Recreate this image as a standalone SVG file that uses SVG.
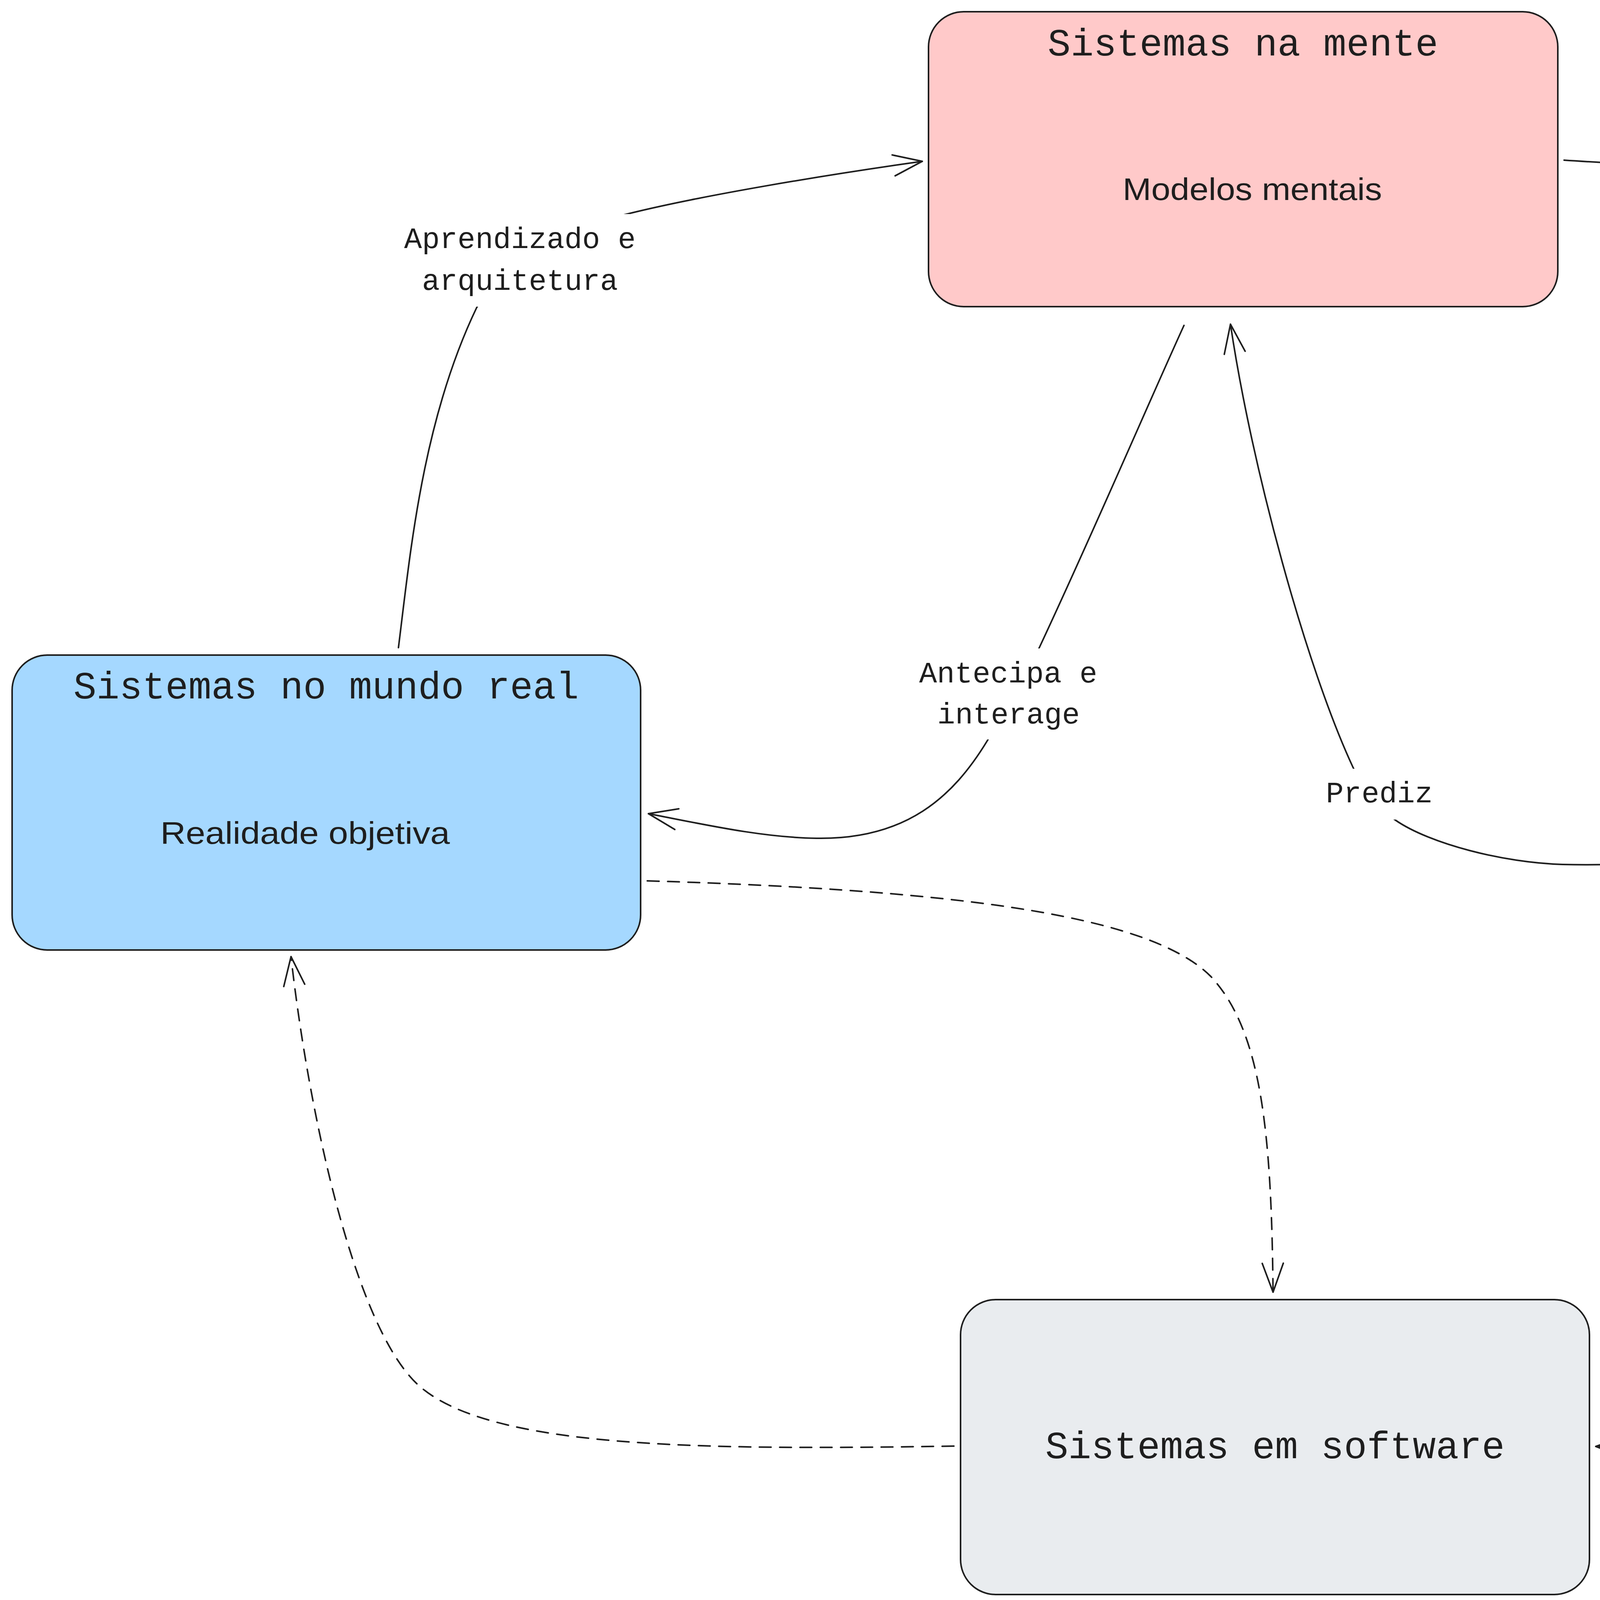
<svg xmlns="http://www.w3.org/2000/svg" width="6448" height="4113" viewBox="0 0 6448 4113">
<defs>
<marker id="ah" markerUnits="userSpaceOnUse" markerWidth="200" markerHeight="200" viewBox="-100 -100 200 200" refX="0" refY="0" orient="auto" overflow="visible">
<path d="M -74 -27 L 0 0 L -74 27" fill="none" stroke="#1e1e1e" stroke-width="4" stroke-linecap="round" stroke-linejoin="round"/>
</marker>
</defs>
<style>
.box{stroke:#1e1e1e;stroke-width:4}
.title{font-family:"Liberation Mono",monospace;font-size:98px;fill:#1e1e1e;text-anchor:middle}
.sub{font-family:"Liberation Sans",sans-serif;font-size:80px;fill:#1e1e1e;text-anchor:middle}
.lbl{font-family:"Liberation Mono",monospace;font-size:76px;fill:#1e1e1e;text-anchor:middle}
.edge{fill:none;stroke:#1e1e1e;stroke-width:4;stroke-linecap:round;marker-end:url(#ah)}
.dash{stroke-dasharray:30 22}
.lblbg{fill:#ffffff}
</style>
<rect x="0" y="0" width="6448" height="4113" fill="#ffffff"/>

<g id="node-mente">
<rect class="box" x="2377" y="30" width="1611" height="755" rx="90" ry="90" fill="#ffc9c9"/>
<text class="title" x="3182" y="142">Sistemas na mente</text>
<text class="sub" x="3206" y="512" textLength="664" lengthAdjust="spacingAndGlyphs">Modelos mentais</text>
</g>

<g id="node-mundo">
<rect class="box" x="31" y="1677" width="1609" height="755" rx="90" ry="90" fill="#a5d8ff"/>
<text class="title" x="835" y="1788">Sistemas no mundo real</text>
<text class="sub" x="781" y="2160" textLength="741" lengthAdjust="spacingAndGlyphs">Realidade objetiva</text>
</g>

<g id="node-abstrato">
<rect class="box" x="4808" y="1756" width="1609" height="755" rx="90" ry="90" fill="#eebefa"/>
<text class="title" x="5613" y="1868">Sistemas em abstrato</text>
<text class="sub" x="5597" y="2205" textLength="491" lengthAdjust="spacingAndGlyphs">Mapeamento</text>
<text class="sub" x="5616" y="2314" textLength="973" lengthAdjust="spacingAndGlyphs">matemático/documentos</text>
</g>

<g id="node-software">
<rect class="box" x="2459" y="3327" width="1610" height="755" rx="90" ry="90" fill="#e9ecef"/>
<text class="title" x="3264" y="3733">Sistemas em software</text>
</g>

<g id="connectors">
<g id="edge-aprendizado">
<path class="edge" d="M1020 1658 C1050 1420 1080 1080 1220 788 C1300 640 1450 585 1613 546 C1800 500 2100 450 2361 413"/>
<rect class="lblbg" x="1024" y="548" width="616" height="237"/>
<text class="lbl" x="1331" y="635">Aprendizado e</text>
<text class="lbl" x="1331" y="742">arquitetura</text>
</g>
<g id="edge-arquitetura">
<path class="edge" d="M4004 410 C4300 430 4700 440 4937 478 C5180 517 5340 580 5397 692 C5500 890 5560 1200 5609 1735"/>
<rect class="lblbg" x="4940" y="480" width="620" height="210"/>
<text class="lbl" x="5253" y="539">Arquitetura e</text>
<text class="lbl" x="5255" y="645">refinamento</text>
</g>
<g id="edge-antecipa">
<path class="edge" d="M3031 833 C2950 1010 2800 1360 2662 1655 C2612 1762 2567 1831 2527 1897 C2440 2040 2320 2150 2090 2146 C1950 2144 1800 2110 1660 2083"/>
<rect class="lblbg" x="2340" y="1660" width="485" height="233"/>
<text class="lbl" x="2581" y="1747">Antecipa e</text>
<text class="lbl" x="2582" y="1852">interage</text>
</g>
<g id="edge-prediz">
<path class="edge" d="M4792 2159 C4550 2180 4250 2220 4000 2213 C3850 2209 3660 2160 3573 2100 C3530 2070 3494 2029 3464 1965 C3345 1710 3205 1200 3150 830"/>
<rect class="lblbg" x="3380" y="1968" width="300" height="130"/>
<text class="lbl" x="3531" y="2054">Prediz</text>
</g>
<path id="edge-mundo-software" class="edge dash" d="M1657 2255 C2500 2280 2950 2350 3100 2500 C3230 2640 3255 2900 3259 3308"/>
<path id="edge-software-mundo" class="edge dash" d="M2442 3702 C1800 3712 1250 3710 1070 3545 C908 3396 790 2850 745 2449"/>
<path id="edge-abstrato-software" class="edge dash" d="M5608 2526 C5595 2900 5564 3296 5420 3500 C5300 3670 4700 3710 4085 3703"/>
</g>
</svg>
